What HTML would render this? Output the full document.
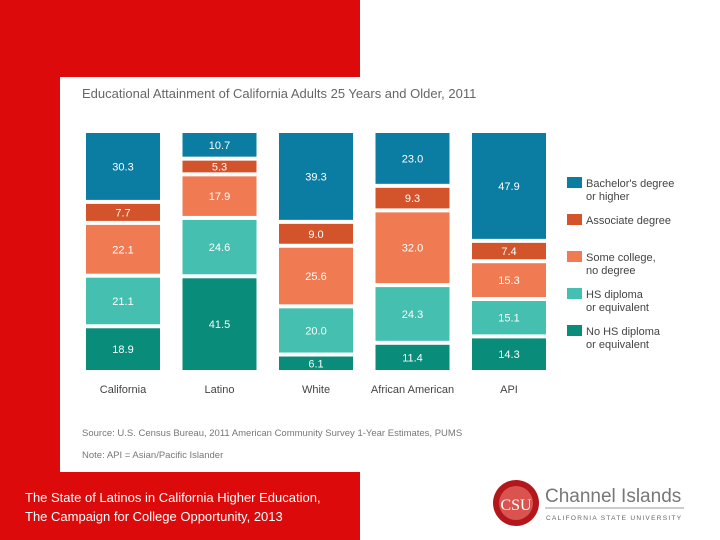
<!DOCTYPE html>
<html><head><meta charset="utf-8"><style>
body{margin:0;width:720px;height:540px;overflow:hidden;background:#fff;font-family:"Liberation Sans",sans-serif;position:relative}
.abs{position:absolute}
</style></head><body>
<div class="abs" style="left:0;top:0;width:360px;height:540px;background:#dc0a0a"></div>
<div class="abs" style="left:60px;top:77px;width:660px;height:395px;background:#fff"></div>
<svg class="abs" style="left:0;top:0" width="720" height="540">
<text x="82" y="98" font-size="13" fill="#666">Educational Attainment of California Adults 25 Years and Older, 2011</text>
<g id="bars"></g>
<g id="legend"></g>
<text x="82" y="436" font-size="9.5" fill="#777">Source: U.S. Census Bureau, 2011 American Community Survey 1-Year Estimates, PUMS</text>
<text x="82" y="458" font-size="9.5" fill="#777">Note: API = Asian/Pacific Islander</text>
<text x="25" y="502" font-size="13" fill="#fff">The State of Latinos in California Higher Education,</text>
<text x="25" y="521" font-size="13" fill="#fff">The Campaign for College Opportunity, 2013</text>
<g>
<circle cx="516" cy="503" r="23" fill="#b3161b"/>
<circle cx="516" cy="503" r="17" fill="#d9534f"/>
<text x="516" y="510" font-size="16" fill="#fff" text-anchor="middle" font-family="Liberation Serif">CSU</text>
<text x="545" y="502" font-size="19" fill="#777">Channel Islands</text>
<line x1="545" y1="508" x2="684" y2="508" stroke="#999"/>
<text x="546" y="520" font-size="6.5" fill="#666" letter-spacing="1.3">CALIFORNIA STATE UNIVERSITY</text>
</g>
</svg>
<script>
const categories=["California","Latino","White","African American","API"];
const seriesNames=["No HS diploma|or equivalent","HS diploma|or equivalent","Some college,|no degree","Associate degree","Bachelor's degree|or higher"];
const noHS=[18.9,41.5,6.1,11.4,14.3];
const hs=[21.1,24.6,20.0,24.3,15.1];
const someCollege=[22.1,17.9,25.6,32.0,15.3];
const associate=[7.7,5.3,9.0,9.3,7.4];
const bachelor=[30.3,10.7,39.3,23.0,47.9];
const series=[noHS,hs,someCollege,associate,bachelor];
const colors=["#0a8c7a","#45bfb0","#f07b52","#d3532a","#0b7ca2"];
const NS="http://www.w3.org/2000/svg";
const plotBottom=370,plotTop=133,gap=4,barW=74,x0=86,step=96.5;
const g=document.getElementById('bars');
function mk(t,a){const e=document.createElementNS(NS,t);for(const k in a)e.setAttribute(k,a[k]);return e;}
categories.forEach((c,i)=>{
  const x=x0+i*step;
  let tot=0;series.forEach(s=>tot+=s[i]);
  const avail=(plotBottom-plotTop)-gap*(series.length-1);
  let y=plotBottom;
  series.forEach((s,j)=>{
    const h=s[i]/tot*avail;
    const r=mk('rect',{x:x,y:y-h,width:barW,height:h,fill:colors[j]});
    
    
    g.appendChild(r);
    const t=mk('text',{x:x+barW/2,y:y-h/2+4,'font-size':11,fill:'#fff','text-anchor':'middle'});
    t.textContent=s[i].toFixed(1);
    
    
    g.appendChild(t);
    y-=h+gap;
  });
  const l=mk('text',{x:x+barW/2,y:393,'font-size':11,fill:'#444','text-anchor':'middle'});
  l.textContent=c;
  
  
  g.appendChild(l);
});
const lg=document.getElementById('legend');
const ly=[331,294,257,220,183];
seriesNames.forEach((n,j)=>{
  const r=mk('rect',{x:567,y:ly[j]-6,width:15,height:11,fill:colors[j]});
  
  
  lg.appendChild(r);
  n.split('|').forEach((p,k)=>{
    const t=mk('text',{x:586,y:ly[j]+4+k*13,'font-size':11,fill:'#444'});
    t.textContent=p;
    
    
    lg.appendChild(t);
  });
});
</script>
</body></html>
